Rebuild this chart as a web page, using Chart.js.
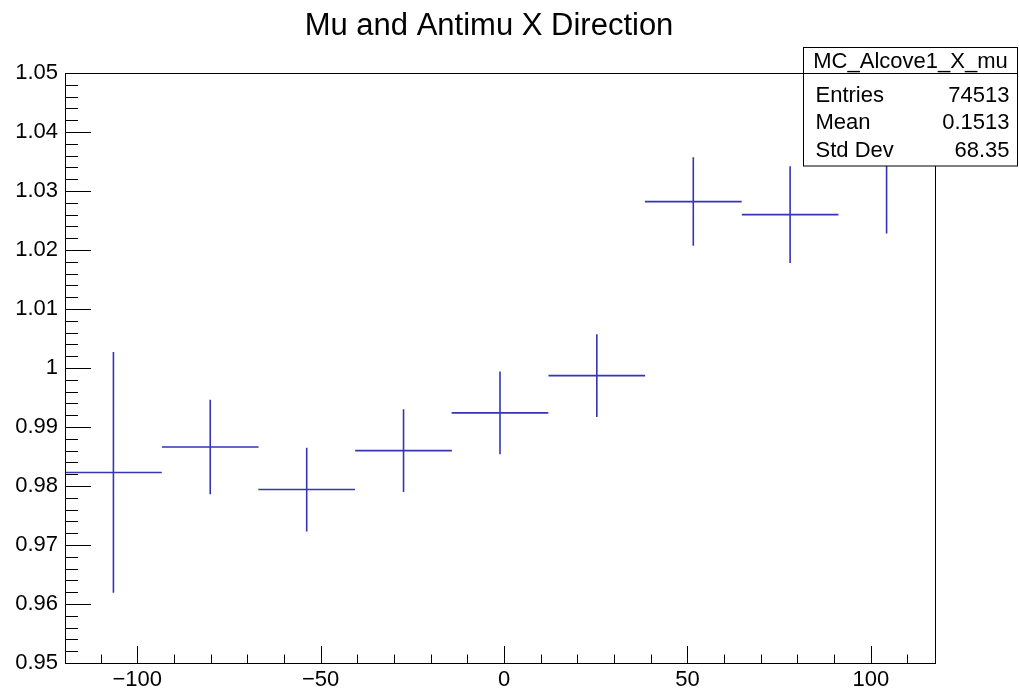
<!DOCTYPE html>
<html>
<head>
<meta charset="utf-8">
<title>Mu and Antimu X Direction</title>
<script src="https://cdn.jsdelivr.net/npm/chart.js@4.4.0/dist/chart.umd.min.js"></script>
<style>
  html, body { margin: 0; padding: 0; background: #fff; }
  #wrap { width: 1019px; height: 694px; }
</style>
</head>
<body>
<div id="wrap"><canvas id="histChart" width="1019" height="694"></canvas></div>
<script>
// ---- histogram data ----
const binCenters = [-106.5, -80.1, -53.8, -27.4, -1.1, 25.3, 51.6, 78.0, 104.3];
const binHalfWidth = 13.18;
const binValues = [0.9823, 0.9866, 0.9794, 0.9860, 0.9924, 0.9987, 1.0282, 1.0260, 1.0365];
const binErrors = [0.0204, 0.0080, 0.0071, 0.0070, 0.0070, 0.0070, 0.0075, 0.0082, 0.0137];

const xTicks = [-100, -50, 0, 50, 100];
const yTicks = [0.95, 0.96, 0.97, 0.98, 0.99, 1.00, 1.01, 1.02, 1.03, 1.04, 1.05];

const chartTitle = 'Mu and Antimu X Direction';
const statsTitle = 'MC_Alcove1_X_mu';
const statsRows = [['Entries', '74513'], ['Mean', '0.1513'], ['Std Dev', '68.35']];

const FONT = '"Liberation Sans", Arial, Helvetica, sans-serif';
const LINE_BLUE = '#3535b6';

// each bin -> one horizontal segment (bin width) + one vertical segment (error), gaps between
function buildCrosses() {
    const pts = [];
    binCenters.forEach((c, i) => {
        const v = binValues[i], e = binErrors[i];
        pts.push({ x: c - binHalfWidth, y: v }, { x: c + binHalfWidth, y: v }, { x: c, y: null });
        pts.push({ x: c, y: v - e }, { x: c, y: v + e }, { x: c, y: null });
    });
    return pts;
}

// ROOT style: title, frame, inward major/minor ticks, stats box
const rootFramePlugin = {
    id: 'rootFrame',
    afterDraw(chart) {
        const { ctx, chartArea: a, scales } = chart;
        const xs = scales.x, ys = scales.y;
        ctx.save();

        // title (ROOT centres it on the pad, not the frame)
        ctx.fillStyle = '#000';
        ctx.font = '31px ' + FONT;
        ctx.textAlign = 'center';
        ctx.textBaseline = 'alphabetic';
        ctx.fillText(chartTitle, 489, 35);

        ctx.strokeStyle = '#000';
        ctx.lineWidth = 1;
        ctx.strokeRect(Math.round(a.left) + 0.5, Math.round(a.top) + 0.5,
            Math.round(a.right - a.left), Math.round(a.bottom - a.top));

        ctx.beginPath();
        // x ticks: major 50, minor 10
        for (let v = -110; v <= 110; v += 10) {
            const px = Math.round(xs.getPixelForValue(v)) + 0.5;
            const len = (v % 50 === 0) ? 17 : 8.5;
            ctx.moveTo(px, a.bottom);
            ctx.lineTo(px, a.bottom - len);
        }
        // y ticks: major 0.01, minor 0.002
        for (let k = 0; k <= 50; k++) {
            const v = 0.95 + k * 0.002;
            const py = Math.round(ys.getPixelForValue(v)) + 0.5;
            const len = (k % 5 === 0) ? 26 : 13;
            ctx.moveTo(a.left, py);
            ctx.lineTo(a.left + len, py);
        }
        ctx.stroke();

        // stats box
        const bx = 803.5, by = 47.5, bw = 214, bh = 118.5, headH = 26, rowH = 27.5;
        ctx.fillStyle = '#fff';
        ctx.fillRect(bx, by, bw, bh);
        ctx.strokeRect(bx, by, bw, bh);
        ctx.beginPath();
        ctx.moveTo(bx, by + headH);
        ctx.lineTo(bx + bw, by + headH);
        ctx.stroke();

        ctx.fillStyle = '#000';
        ctx.font = '22px ' + FONT;
        ctx.textBaseline = 'middle';
        ctx.textAlign = 'center';
        ctx.fillText(statsTitle, bx + bw / 2, by + headH / 2 + 1);
        statsRows.forEach((r, i) => {
            const ty = by + headH + rowH * i + 22;
            ctx.textAlign = 'left';
            ctx.fillText(r[0], bx + 12, ty);
            ctx.textAlign = 'right';
            ctx.fillText(r[1], bx + bw - 8, ty);
        });
        ctx.restore();
    }
};

const chart = new Chart(document.getElementById('histChart'), {
    type: 'scatter',
    data: {
        datasets: [{
            label: statsTitle,
            data: buildCrosses(),
            showLine: true,
            spanGaps: false,
            borderColor: LINE_BLUE,
            borderWidth: 1.6,
            pointRadius: 0,
            pointHoverRadius: 0
        }]
    },
    options: {
        responsive: false,
        animation: false,
        devicePixelRatio: 1,
        layout: { padding: { left: 0, right: 84, top: 73, bottom: 0 } },
        plugins: {
            legend: { display: false },
            tooltip: { enabled: false },
            title: { display: false }
        },
        scales: {
            x: {
                type: 'linear',
                min: -119.7,
                max: 117.5,
                grid: { display: false, drawTicks: false },
                border: { display: false },
                afterBuildTicks: s => { s.ticks = xTicks.map(v => ({ value: v })); },
                afterFit: s => { s.height = 31; },
                ticks: {
                    color: '#000',
                    padding: 4,
                    maxRotation: 0,
                    font: { family: FONT, size: 22 },
                    callback: v => (v < 0 ? '\u2212' + Math.abs(v) : String(v))
                }
            },
            y: {
                type: 'linear',
                min: 0.95,
                max: 1.05,
                grid: { display: false, drawTicks: false },
                border: { display: false },
                afterBuildTicks: s => { s.ticks = yTicks.map(v => ({ value: v })); },
                afterFit: s => { s.width = 65; },
                ticks: {
                    color: '#000',
                    padding: 7,
                    font: { family: FONT, size: 22 },
                    callback: v => String(+v.toFixed(2))
                }
            }
        }
    },
    plugins: [rootFramePlugin]
});
</script>
</body>
</html>
